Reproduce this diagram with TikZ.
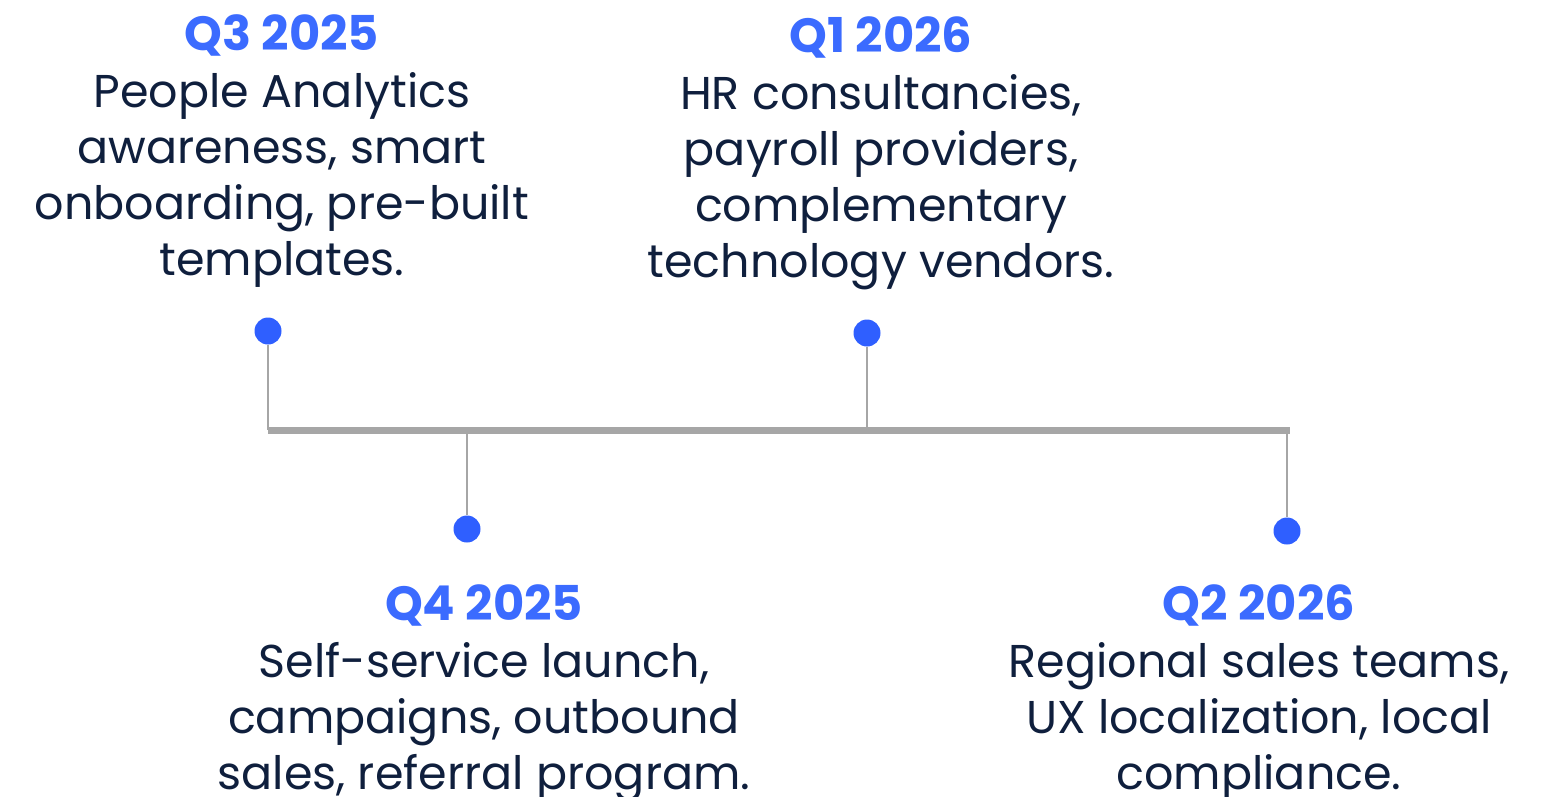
\documentclass[tikz,border=0pt]{standalone}
\usepackage{fontspec}
\setmainfont{Poppins}
\definecolor{blueT}{HTML}{3B6BFF}
\definecolor{dotB}{HTML}{2F5FFF}
\definecolor{navy}{HTML}{0F1F3D}
\definecolor{lineG}{HTML}{A6A6A6}
\begin{document}
\begin{tikzpicture}[x=1pt,y=-1pt,
  dot/.style={circle,fill=dotB,inner sep=0pt,minimum size=27pt},
  stem/.style={draw=lineG,line width=2pt},
  axis/.style={draw=lineG,line width=7pt},
  title/.style={font=\fontsize{48}{56}\selectfont\bfseries,text=blueT,inner sep=0pt,anchor=base},
  body/.style={font=\fontsize{46}{56}\selectfont,text=navy,align=center,inner sep=0pt,anchor=base}]
\useasboundingbox (0,0) rectangle (1545,796);
\coordinate (a0) at (268,430);
\coordinate (a1) at (1290,430);
\coordinate (s1) at (268,430);
\coordinate (s2) at (467,430);
\coordinate (s3) at (867,430);
\coordinate (s4) at (1287,430);
\draw[axis] (a0) -- (a1);
\node[dot] (d1) at (268,331) {};
\node[dot] (d2) at (467,529) {};
\node[dot] (d3) at (867,333) {};
\node[dot] (d4) at (1287,531) {};
\draw[stem] (d1) -- (s1);
\draw[stem] (d2) -- (s2);
\draw[stem] (d3) -- (s3);
\draw[stem] (d4) -- (s4);
% Q3 2025
\node[title] (t1) at (282,50) {Q3 2025};
\node[body] (b1a) at (282,107) {People Analytics};
\node[body] (b1b) at (282,163) {awareness, smart};
\node[body] (b1c) at (282,219) {onboarding, pre-built};
\node[body] (b1d) at (282,275) {templates.};
% Q1 2026
\node[title] (t3) at (881,52) {Q1 2026};
\node[body] (b3a) at (881,109) {HR consultancies,};
\node[body] (b3b) at (881,165) {payroll providers,};
\node[body] (b3c) at (881,221) {complementary};
\node[body] (b3d) at (881,277) {technology vendors.};
% Q4 2025
\node[title] (t2) at (484,620) {Q4 2025};
\node[body] (b2a) at (484,677) {Self-service launch,};
\node[body] (b2b) at (484,733) {campaigns, outbound};
\node[body] (b2c) at (484,789) {sales, referral program.};
% Q2 2026
\node[title] (t4) at (1259,620) {Q2 2026};
\node[body] (b4a) at (1259,677) {Regional sales teams,};
\node[body] (b4b) at (1259,733) {UX localization, local};
\node[body] (b4c) at (1259,789) {compliance.};
\end{tikzpicture}
\end{document}
